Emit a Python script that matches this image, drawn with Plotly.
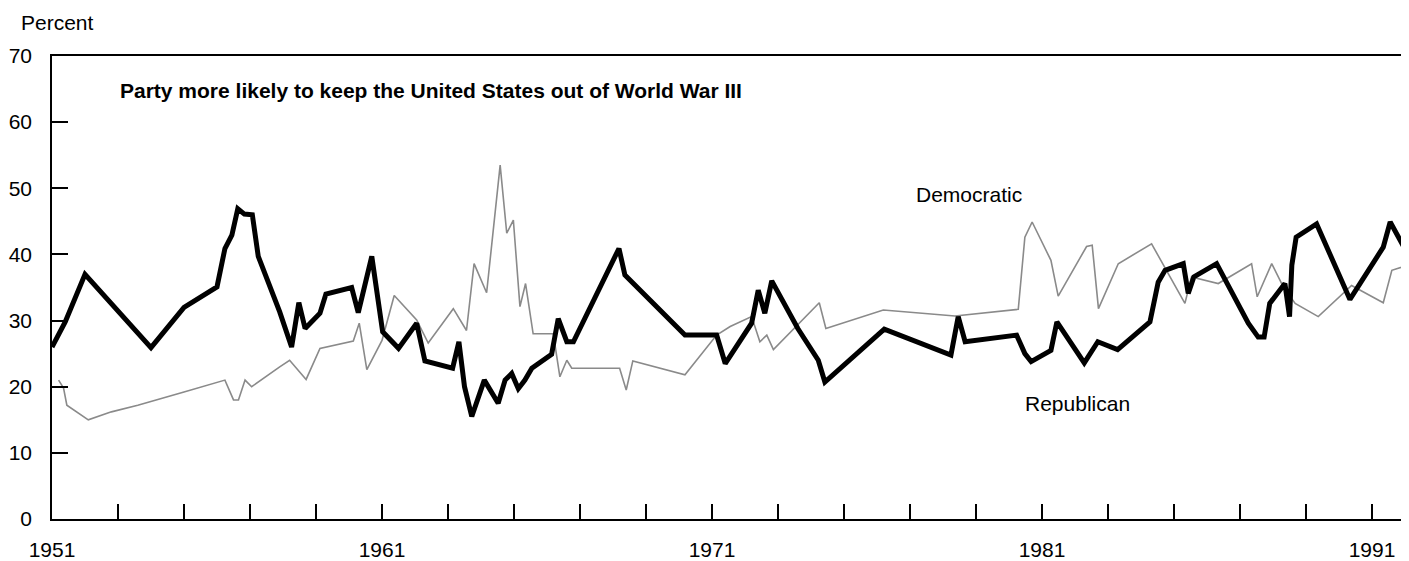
import plotly.graph_objects as go

# Republican (thick black line)
rep_year = [1951.0, 1951.4, 1952.0, 1954.0, 1955.0, 1956.0, 1956.24, 1956.45, 1956.63, 1956.83,
            1957.07, 1957.25, 1957.9, 1958.26, 1958.48, 1958.67, 1959.12, 1959.3, 1960.08, 1960.28,
            1960.69, 1961.02, 1961.5, 1962.05, 1962.3, 1963.14, 1963.33, 1963.5, 1963.72, 1964.1,
            1964.52, 1964.73, 1964.93, 1965.13, 1965.33, 1965.54, 1966.14, 1966.34, 1966.6, 1966.8,
            1968.18, 1968.36, 1970.18, 1971.14, 1971.4, 1972.2, 1972.4, 1972.6, 1972.81, 1973.6,
            1974.22, 1974.42, 1976.22, 1978.24, 1978.46, 1978.67, 1980.23, 1980.48, 1980.67, 1981.27,
            1981.45, 1982.28, 1982.69, 1983.29, 1984.27, 1984.52, 1984.73, 1985.28, 1985.43, 1985.6,
            1986.29, 1987.25, 1987.55, 1987.73, 1987.9, 1988.2, 1988.36, 1988.5, 1988.57, 1988.7,
            1989.32, 1990.33, 1991.34, 1991.55, 1992.1]
rep_pct = [26.0, 29.8, 37.0, 25.9, 32.0, 35.1, 40.9, 42.9, 46.9, 46.1,
           46.0, 39.7, 31.3, 26.0, 32.7, 28.8, 31.1, 34.0, 35.0, 31.2,
           39.7, 28.3, 25.8, 29.6, 23.9, 22.8, 26.8, 20.0, 15.5, 21.0,
           17.5, 21.0, 22.0, 19.7, 21.0, 22.8, 24.9, 30.3, 26.8, 26.8,
           40.9, 36.9, 27.8, 27.8, 23.5, 29.6, 34.6, 31.1, 36.0, 28.8,
           24.0, 20.7, 28.7, 24.8, 30.6, 26.8, 27.8, 25.0, 23.8, 25.5,
           29.8, 23.6, 26.8, 25.6, 29.8, 35.8, 37.6, 38.6, 34.1, 36.6,
           38.6, 29.6, 27.5, 27.5, 32.6, 34.6, 35.6, 30.6, 38.4, 42.6,
           44.6, 33.2, 41.1, 44.9, 39.9]

# Democratic (thin gray line)
dem_year = [1951.2, 1951.35, 1951.45, 1952.1, 1952.8, 1953.6, 1955.0, 1956.24, 1956.5, 1956.65,
            1956.85, 1957.05, 1957.9, 1958.2, 1958.7, 1959.12, 1960.13, 1960.31, 1960.54, 1961.0,
            1961.37, 1962.05, 1962.4, 1963.16, 1963.56, 1963.79, 1964.17, 1964.58, 1964.78, 1964.98,
            1965.18, 1965.35, 1965.58, 1966.19, 1966.39, 1966.6, 1966.75, 1968.2, 1968.4, 1968.6,
            1970.18, 1971.14, 1971.55, 1972.2, 1972.45, 1972.66, 1972.86, 1974.25, 1974.45, 1976.19,
            1978.36, 1980.28, 1980.48, 1980.7, 1981.27, 1981.49, 1982.35, 1982.52, 1982.71, 1983.31,
            1984.32, 1985.33, 1985.53, 1986.34, 1987.35, 1987.52, 1987.96, 1988.31, 1988.67, 1989.37,
            1990.38, 1991.34, 1991.6, 1992.1]
dem_pct = [21.0, 19.8, 17.2, 15.0, 16.2, 17.2, 19.2, 21.0, 18.0, 18.0,
           21.0, 20.0, 23.0, 24.0, 21.1, 25.8, 26.9, 29.6, 22.6, 27.0,
           33.8, 30.1, 26.6, 31.8, 28.5, 38.6, 34.2, 53.5, 43.2, 45.2,
           32.1, 35.6, 28.0, 28.0, 21.5, 24.0, 22.8, 22.8, 19.5, 23.9,
           21.8, 27.8, 29.1, 30.6, 26.8, 27.8, 25.6, 32.7, 28.8, 31.6,
           30.7, 31.7, 42.6, 44.9, 39.1, 33.7, 41.2, 41.4, 31.8, 38.6,
           41.6, 32.6, 36.6, 35.6, 38.6, 33.6, 38.6, 35.1, 32.6, 30.6,
           35.3, 32.7, 37.6, 38.4]

x_ticks = list(range(1951, 1992, 2))
x_labels = [str(y) if (y - 1951) % 10 == 0 else "" for y in x_ticks]
y_ticks = list(range(0, 71, 10))

FONT = "Liberation Sans, Arial, Helvetica, sans-serif"

fig = go.Figure()
fig.add_trace(go.Scatter(x=dem_year, y=dem_pct, mode="lines", name="Democratic",
                         line=dict(color="#8a8a8a", width=1.6)))
fig.add_trace(go.Scatter(x=rep_year, y=rep_pct, mode="lines", name="Republican",
                         line=dict(color="black", width=5)))

fig.update_xaxes(range=[1951, 1992.12], tickvals=x_ticks, ticktext=x_labels,
                 ticks="inside", ticklen=15, tickwidth=1.5, tickcolor="black",
                 showline=True, linecolor="black", linewidth=2, mirror=True,
                 showgrid=False, zeroline=False, ticklabelstandoff=11, automargin=False,
                 tickfont=dict(size=21, color="black"))
fig.update_yaxes(range=[0, 70], tickvals=y_ticks,
                 ticks="inside", ticklen=16, tickwidth=1.5, tickcolor="black",
                 showline=True, linecolor="black", linewidth=1.5,
                 showgrid=False, zeroline=False, ticklabelstandoff=14, automargin=False,
                 tickfont=dict(size=21, color="black"))

fig.add_annotation(text="Percent", xref="paper", yref="paper", x=-0.0243, y=1.073,
                   xanchor="left", yanchor="middle", showarrow=False,
                   font=dict(size=21, color="black"))
fig.add_annotation(text="<b>Party more likely to keep the United States out of World War III</b>",
                   xref="x", yref="y", x=1953.0, y=64.8, xanchor="left", yanchor="middle",
                   showarrow=False, font=dict(size=21, color="black"))
fig.add_annotation(text="Democratic", xref="x", yref="y", x=1977.12, y=49.0,
                   xanchor="left", yanchor="middle", showarrow=False,
                   font=dict(size=21, color="black"))
fig.add_annotation(text="Republican", xref="x", yref="y", x=1980.42, y=17.4,
                   xanchor="left", yanchor="middle", showarrow=False,
                   font=dict(size=21, color="black"))

# page body has an 8px margin, so the figure is sized and padded to land on the window
fig.update_layout(width=1401, height=553, showlegend=False,
                  paper_bgcolor="white", plot_bgcolor="white",
                  font=dict(family=FONT, color="black"),
                  margin=dict(l=44, r=0, t=48, b=42))

fig.write_html("out.html")
